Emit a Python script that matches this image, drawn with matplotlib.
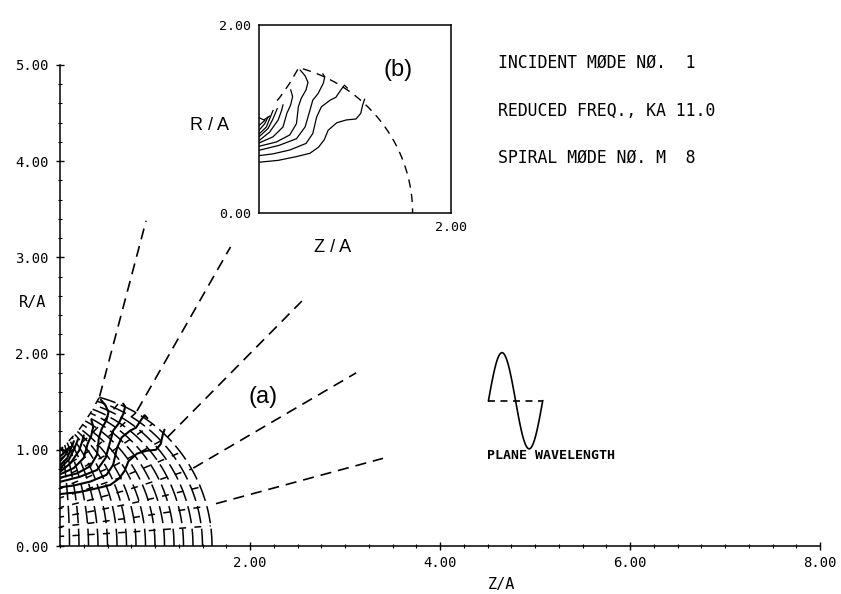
import numpy as np
import matplotlib
matplotlib.use("Agg")
import matplotlib.pyplot as plt
from matplotlib.ticker import MultipleLocator

plt.rcParams['lines.scale_dashes'] = False

# ---------------- data ----------------
info_lines = ["INCIDENT MØDE NØ.  1", "REDUCED FREQ., KA 11.0", "SPIRAL MØDE NØ. M  8"]
reduced_freq = 11.0

main_xticks = [2, 4, 6, 8]
main_xticklabels = ["2.00", "4.00", "6.00", "8.00"]
main_yticks = [0, 1, 2, 3, 4, 5]
main_yticklabels = ["0.00", "1.00", "2.00", "3.00", "4.00", "5.00"]

# far-field rays (angle from Z axis, start / end radius)
ray_angles_deg = [15, 30, 45, 60, 75]
ray_r_start = [1.70, 1.62, 1.60, 1.62, 1.61]
ray_r_end = [3.52, 3.60, 3.60, 3.59, 3.50]

# near-field region boundary
boundary_radius = 1.6
boundary_end_deg = 75
axis_edge_top = 1.0
top_edge_z = [0.0, 0.10, 0.21, 0.32, 0.414]
top_edge_r = [1.0, 1.10, 1.22, 1.38, 1.545]
mesh_cols = 16
mesh_rows = 10

# contour lines (Z/A, R/A)
contour_z = [
    [0.0, 0.20, 0.39, 0.53, 0.62, 0.68, 0.72, 0.81, 0.91, 1.01, 1.06, 1.08, 1.10],
    [0.0, 0.15, 0.32, 0.49, 0.56, 0.60, 0.65, 0.74, 0.80, 0.86, 0.89, 0.92],
    [0.0, 0.21, 0.39, 0.48, 0.53, 0.56, 0.615, 0.67, 0.685, 0.665],
    [0.0, 0.18, 0.32, 0.39, 0.41, 0.44, 0.49, 0.51, 0.48, 0.43],
    [0.0, 0.145, 0.25, 0.29, 0.33, 0.35, 0.33],
    [0.0, 0.11, 0.20, 0.235, 0.25],
    [0.0, 0.095, 0.145, 0.19],
    [0.0, 0.077, 0.11, 0.146],
    [0.0, 0.06, 0.094],
    [0.0, 0.06],
    [0.0, 0.05, 0.11],
]
contour_r = [
    [0.54, 0.56, 0.60, 0.635, 0.70, 0.78, 0.88, 0.96, 0.99, 1.0, 1.06, 1.15, 1.21],
    [0.61, 0.63, 0.67, 0.74, 0.845, 1.02, 1.13, 1.20, 1.23, 1.32, 1.36, 1.33],
    [0.667, 0.72, 0.79, 0.915, 1.09, 1.20, 1.27, 1.38, 1.45, 1.48],
    [0.71, 0.755, 0.83, 0.95, 1.13, 1.22, 1.31, 1.39, 1.46, 1.52],
    [0.745, 0.81, 0.915, 1.06, 1.15, 1.24, 1.31],
    [0.77, 0.86, 0.99, 1.09, 1.15],
    [0.81, 0.90, 1.0, 1.11],
    [0.84, 0.915, 1.0, 1.09],
    [0.88, 0.95, 1.02],
    [0.93, 0.985],
    [1.015, 0.99, 1.03],
]

# plane wavelength glyph
wave_z0 = 4.51
wave_r0 = 1.51
wave_amp = 0.5

# ---------------- helpers ----------------
sp = np.linspace(0, 1, len(top_edge_z))
P11 = np.array([top_edge_z[-1], top_edge_r[-1]])


def coons(s, t):
    s = np.asarray(s, float)
    t = np.asarray(t, float)
    Bz, Br = boundary_radius * s, 0 * s
    Tz, Tr = np.interp(s, sp, top_edge_z), np.interp(s, sp, top_edge_r)
    Lz, Lr = 0 * t, axis_edge_top * t
    th = np.deg2rad(boundary_end_deg) * t
    Rz, Rr = boundary_radius * np.cos(th), boundary_radius * np.sin(th)
    z = ((1 - t) * Bz + t * Tz + (1 - s) * Lz + s * Rz
         - (s * (1 - t) * boundary_radius + s * t * P11[0]))
    r = ((1 - t) * Br + t * Tr + (1 - s) * Lr + s * Rr
         - ((1 - s) * t * axis_edge_top + s * t * P11[1]))
    return z, r


fig = plt.figure(figsize=(8.41, 5.94), dpi=100)
mono = "DejaVu Sans Mono"

# ---------------- main axes ----------------
ax = fig.add_axes([60 / 841, 48 / 594, 760 / 841, 481 / 594])
ax.set_xlim(0, 8)
ax.set_ylim(0, 5)
for sd in ("top", "right"):
    ax.spines[sd].set_visible(False)
for sd in ("left", "bottom"):
    ax.spines[sd].set_linewidth(1.1)
ax.set_xticks(main_xticks)
ax.set_xticklabels(main_xticklabels, family=mono, fontsize=10)
ax.set_yticks(main_yticks)
ax.set_yticklabels(main_yticklabels, family=mono, fontsize=10)
ax.xaxis.set_minor_locator(MultipleLocator(0.25))
ax.yaxis.set_minor_locator(MultipleLocator(0.2))
ax.tick_params(which="major", direction="inout", length=6, width=1, pad=4)
ax.tick_params(which="minor", direction="inout", length=3.5, width=0.8)
ax.tick_params(axis="y", pad=5)

tt = np.linspace(0, 1, 60)
for k in range(1, mesh_cols + 1):
    z, r = coons(np.full_like(tt, k / mesh_cols), tt)
    ax.plot(z, r, color="black", lw=1.1, linestyle=(0, (12.5, 4)))
for k in range(1, mesh_rows + 1):
    z, r = coons(tt, np.full_like(tt, k / mesh_rows))
    ax.plot(z, r, color="black", lw=1.1, linestyle=(2, (5, 6)))

for ang, r0, r1 in zip(ray_angles_deg, ray_r_start, ray_r_end):
    a = np.deg2rad(ang)
    rr = np.array([r0, r1])
    ax.plot(rr * np.cos(a), rr * np.sin(a), color="black", lw=1.2,
            linestyle=(0, (8, 5)))

for cz, cr in zip(contour_z, contour_r):
    ax.plot(cz, cr, color="black", lw=1.5, solid_capstyle="round")

# plane wavelength glyph
lam = 2 * np.pi / reduced_freq
wz = np.linspace(0, lam, 80)
ax.plot(wave_z0 + wz, wave_r0 + wave_amp * np.sin(2 * np.pi * wz / lam),
        color="black", lw=1.2)
ax.plot([wave_z0, wave_z0 + lam], [wave_r0, wave_r0], color="black", lw=1.2,
        linestyle=(0, (5, 4)))
ax.text(wave_z0 - 0.02, wave_r0 - 0.57, "PLANE WAVELENGTH", family=mono,
        fontsize=9.5, fontweight="bold", va="center", ha="left")

ax.text(2.14, 1.55, "(a)", family="Liberation Sans", fontsize=17,
        ha="center", va="center")

fig.text(33 / 841, 1 - 302 / 594, "R/A", family=mono, fontsize=11,
         ha="center", va="center")
fig.text(502 / 841, 1 - 585 / 594, "Z/A", family=mono, fontsize=11,
         ha="center", va="center")

# info text
for i, line in enumerate(info_lines):
    fig.text(498 / 841, 1 - (63 + 47.5 * i) / 594, line, family=mono,
             fontsize=11.9, ha="left", va="center")

# ---------------- inset ----------------
ax2 = fig.add_axes([259 / 841, (594 - 213) / 594, 192 / 841, 188 / 594])
ax2.set_xlim(0, 2)
ax2.set_ylim(0, 2)
for sd in ax2.spines.values():
    sd.set_linewidth(1.1)
ax2.set_xticks([2])
ax2.set_xticklabels(["2.00"], family=mono, fontsize=9.5)
ax2.set_yticks([0, 2])
ax2.set_yticklabels(["0.00", "2.00"], family=mono, fontsize=9.5)
ax2.tick_params(length=0)
ax2.tick_params(axis="y", pad=6)
ax2.tick_params(axis="x", pad=6)

# dashed boundary in inset: top edge (upper part) + arc
s_top = np.linspace(0.45, 1, 20)
tz, tr = coons(s_top, np.ones_like(s_top))
t_arc = np.linspace(1, 0, 80)
az, ar = coons(np.ones_like(t_arc), t_arc)
ax2.plot(np.concatenate([tz, az]), np.concatenate([tr, ar]), color="black",
         lw=1.0, linestyle=(0, (6, 4.5)))
for cz, cr in zip(contour_z, contour_r):
    ax2.plot(cz, cr, color="black", lw=0.9)

ax2.text(1.45, 1.52, "(b)", family="Liberation Sans", fontsize=17,
         ha="center", va="center")
fig.text(210 / 841, 1 - 125 / 594, "R / A", family="Liberation Sans",
         fontsize=13, ha="center", va="center")
fig.text(333 / 841, 1 - 248 / 594, "Z / A", family="Liberation Sans",
         fontsize=13, ha="center", va="center")

fig.savefig("out.png", dpi=100)
